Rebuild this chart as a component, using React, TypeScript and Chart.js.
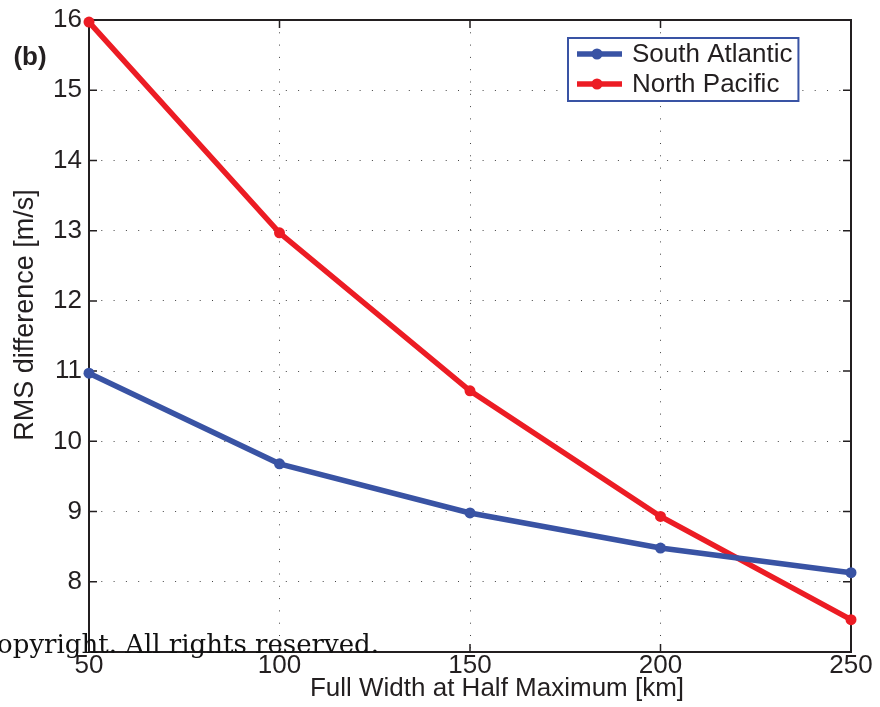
import React, { useEffect, useRef } from "react";
import { Chart, registerables } from "chart.js";

Chart.register(...registerables);

const fwhmKm = [50, 100, 150, 200, 250];
const southAtlantic = [10.97, 9.68, 8.98, 8.48, 8.13];
const northPacific = [15.97, 12.97, 10.72, 8.93, 7.46];
const seriesNames = ["South Atlantic", "North Pacific"];
const xTitle = "Full Width at Half Maximum [km]";
const yTitle = "RMS difference [m/s]";
const panelLabel = "(b)";
const copyrightText = "Copyright. All rights reserved.";

const BLUE = "#3953a4";
const RED = "#ec1c24";
const INK = "#231f20";
const SANS = "'Liberation Sans', Arial, sans-serif";

const framePlugin = {
  id: "frame",
  beforeDatasetsDraw(chart: any) {
    const { ctx, chartArea: a, scales } = chart;
    ctx.save();
    ctx.strokeStyle = INK;
    ctx.lineWidth = 2;
    ctx.strokeRect(a.left, a.top, a.right - a.left, a.bottom - a.top);
    const tl = 8;
    ctx.beginPath();
    scales.x.ticks.forEach((t: any) => {
      const px = scales.x.getPixelForValue(t.value);
      ctx.moveTo(px, a.bottom);
      ctx.lineTo(px, a.bottom - tl);
      ctx.moveTo(px, a.top);
      ctx.lineTo(px, a.top + tl);
    });
    scales.y.ticks.forEach((t: any) => {
      const py = scales.y.getPixelForValue(t.value);
      ctx.moveTo(a.left, py);
      ctx.lineTo(a.left + tl, py);
      ctx.moveTo(a.right, py);
      ctx.lineTo(a.right - tl, py);
    });
    ctx.lineWidth = 1.5;
    ctx.stroke();
    ctx.restore();
  },
  afterDraw(chart: any) {
    const { ctx, chartArea: a } = chart;
    ctx.save();
    ctx.fillStyle = INK;
    ctx.font = `26px ${SANS}`;
    ctx.textAlign = "center";
    ctx.textBaseline = "middle";
    ctx.fillText(xTitle, (a.left + a.right) / 2 + 27, a.bottom + 37);
    ctx.save();
    ctx.translate(26, (a.top + a.bottom) / 2 - 21);
    ctx.rotate(-Math.PI / 2);
    ctx.font = `27px ${SANS}`;
    ctx.fillText(yTitle, 0, 0);
    ctx.restore();
    ctx.font = `bold 26px ${SANS}`;
    ctx.textAlign = "center";
    ctx.fillText(panelLabel, 30, a.top + 38);

    const ds = chart.data.datasets;
    ctx.font = `26px ${SANS}`;
    let maxW = 0;
    ds.forEach((d: any) => {
      maxW = Math.max(maxW, ctx.measureText(d.label).width);
    });
    const lx = a.left + 479;
    const ly = a.top + 18;
    const lw = 9 + 45 + 10 + maxW + 6;
    const lh = 63;
    ctx.fillStyle = "#ffffff";
    ctx.fillRect(lx, ly, lw, lh);
    ctx.strokeStyle = BLUE;
    ctx.lineWidth = 2;
    ctx.strokeRect(lx, ly, lw, lh);
    ds.forEach((d: any, i: number) => {
      const cy = ly + 16 + i * 30;
      ctx.strokeStyle = d.borderColor;
      ctx.lineWidth = 5.5;
      ctx.beginPath();
      ctx.moveTo(lx + 9, cy);
      ctx.lineTo(lx + 54, cy);
      ctx.stroke();
      ctx.fillStyle = d.borderColor;
      ctx.beginPath();
      ctx.arc(lx + 29, cy, 5.5, 0, Math.PI * 2);
      ctx.fill();
      ctx.fillStyle = INK;
      ctx.textAlign = "left";
      ctx.textBaseline = "middle";
      ctx.fillText(d.label, lx + 64, cy + 1);
    });

    ctx.fillStyle = "#111111";
    ctx.font = `26px 'DejaVu Serif', serif`;
    ctx.textAlign = "right";
    ctx.textBaseline = "alphabetic";
    ctx.fillText(copyrightText, 379, 653);
    ctx.restore();
  },
};

export default function App() {
  const ref = useRef<HTMLCanvasElement | null>(null);
  useEffect(() => {
    document.body.style.margin = "0";
    const canvas = ref.current!;
    const chart = new Chart(canvas, {
      type: "line",
      data: {
        datasets: [
          {
            label: seriesNames[0],
            data: fwhmKm.map((x, i) => ({ x, y: southAtlantic[i] })),
            borderColor: BLUE,
            backgroundColor: BLUE,
            borderWidth: 5.5,
            pointRadius: 5.5,
            pointHoverRadius: 5.5,
            pointBorderWidth: 0,
            clip: false,
          },
          {
            label: seriesNames[1],
            data: fwhmKm.map((x, i) => ({ x, y: northPacific[i] })),
            borderColor: RED,
            backgroundColor: RED,
            borderWidth: 5.5,
            pointRadius: 5.5,
            pointHoverRadius: 5.5,
            pointBorderWidth: 0,
            clip: false,
          },
        ],
      },
      options: {
        animation: false,
        responsive: false,
        maintainAspectRatio: false,
        layout: { padding: { top: 19, right: 29, left: 0, bottom: 0 } },
        plugins: { legend: { display: false }, tooltip: { enabled: false } },
        scales: {
          x: {
            type: "linear",
            min: 50,
            max: 250,
            ticks: {
              stepSize: 50,
              color: INK,
              padding: 1,
              font: { family: SANS, size: 26, lineHeight: 1 },
            },
            grid: { color: "#444444", lineWidth: 1, drawTicks: false },
            border: { display: false, dash: [1, 11.3] },
            afterFit: (s: any) => {
              s.height = 55;
            },
          },
          y: {
            type: "linear",
            min: 7,
            max: 16,
            ticks: {
              stepSize: 1,
              color: INK,
              padding: 7,
              font: { family: SANS, size: 26, lineHeight: 1 },
              callback: (v: any) => (v === 7 ? "" : String(v)),
            },
            grid: { color: "#444444", lineWidth: 1, drawTicks: false },
            border: { display: false, dash: [1, 11.3] },
            afterFit: (s: any) => {
              s.width = 89;
            },
          },
        },
      },
      plugins: [framePlugin],
    });
    return () => chart.destroy();
  }, []);
  return (
    <div style={{ position: "fixed", left: 0, top: 0, width: 880, height: 707, background: "#fff" }}>
      <canvas ref={ref} width={880} height={707} style={{ width: 880, height: 707, display: "block" }} />
    </div>
  );
}
